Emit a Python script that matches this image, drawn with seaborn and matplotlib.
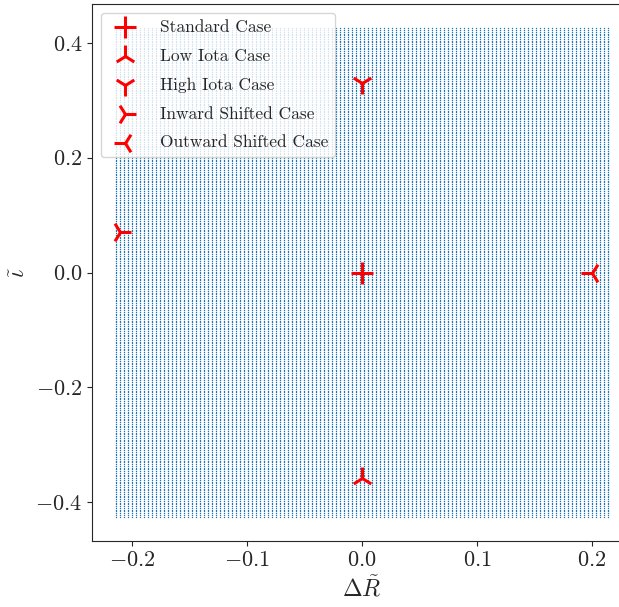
import numpy as np
import pandas as pd
import matplotlib
matplotlib.use("Agg")
import matplotlib.pyplot as plt
import seaborn as sns

# Scan grid of (delta R, iota) candidates
grid_dr_range = [-0.2137, 0.2137]
grid_iota_range = [-0.425, 0.425]
grid_n_dr = 124
grid_n_iota = 280

# Reference configurations
case_names = ["Standard Case", "Low Iota Case", "High Iota Case",
              "Inward Shifted Case", "Outward Shifted Case"]
case_dr = [0.0, 0.0, 0.0, -0.211, 0.2]
case_iota = [0.0, -0.358, 0.33, 0.07, 0.0]
case_markers = ["+", "2", "1", "4", "3"]

sns.set_style("ticks")
plt.rcParams["font.family"] = "serif"
plt.rcParams["font.serif"] = ["cmr10", "DejaVu Serif"]
plt.rcParams["mathtext.fontset"] = "cm"
plt.rcParams["axes.formatter.use_mathtext"] = True

dr_vals = np.linspace(*grid_dr_range, grid_n_dr)
iota_vals = np.linspace(*grid_iota_range, grid_n_iota)
DR, IO = np.meshgrid(dr_vals, iota_vals)
grid = pd.DataFrame({"dr": DR.ravel(), "iota": IO.ravel()})

fig = plt.figure(figsize=(6.19, 6.07), dpi=100)
ax = fig.add_axes([0.1486, 0.1087, 0.8724, 0.8847])

sns.scatterplot(data=grid, x="dr", y="iota", s=1.0, color="#1f77b4",
                linewidth=0, legend=False, ax=ax, rasterized=True)

for name, x, y, m in zip(case_names, case_dr, case_iota, case_markers):
    sns.scatterplot(x=[x], y=[y], marker=m, s=250, color="red",
                    linewidth=2.2, label=name, ax=ax, zorder=3)

ax.set_xlim(-0.235, 0.235)
ax.set_ylim(-0.4675, 0.4675)
ax.set_xticks([-0.2, -0.1, 0.0, 0.1, 0.2])
ax.set_yticks([-0.4, -0.2, 0.0, 0.2, 0.4])
ax.tick_params(labelsize=16)
ax.set_xlabel(r"$\Delta\tilde{R}$", fontsize=17)
ax.set_ylabel(r"$\tilde{\iota}$", fontsize=17)

ax.legend(loc="upper left", fontsize=12.5, scatterpoints=1,
          borderaxespad=0.5, handletextpad=1.0, labelspacing=0.78)

fig.savefig("out.png", dpi=100)
